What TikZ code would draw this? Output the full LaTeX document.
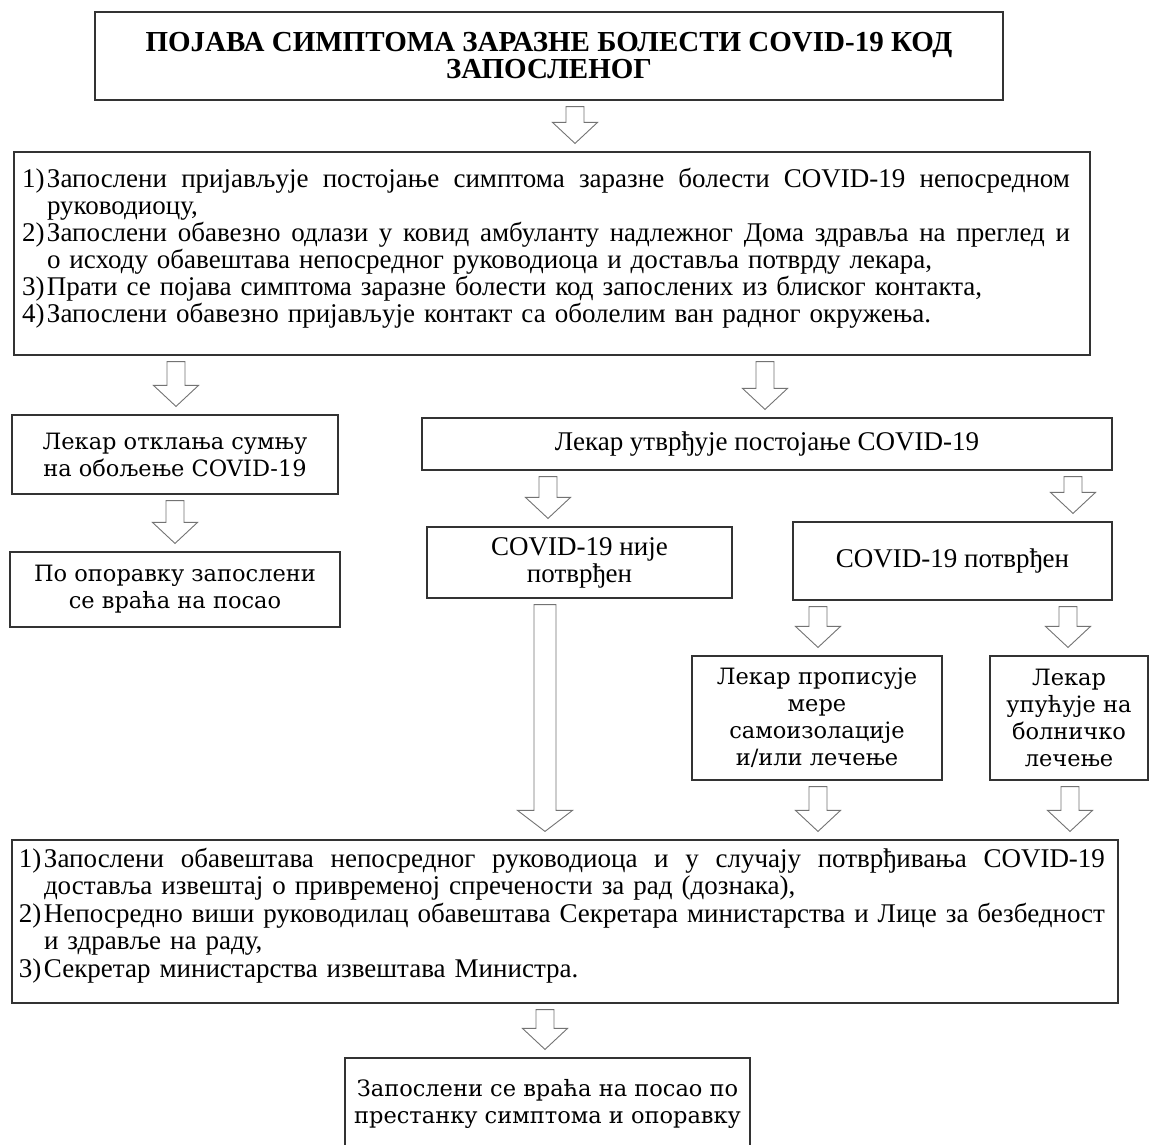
\documentclass[tikz,border=0pt]{standalone}
\usepackage{fontspec}
\setmainfont{Liberation Serif}
\newfontfamily\widefont{DejaVu Serif}
\usetikzlibrary{calc}

\tikzset{
  blockarr/.style={draw=black!55, line width=0.9pt, fill=white, line join=miter},
}

% justified first line of an item: width, text
\newcommand{\jline}[2]{{\spaceskip=0.25em plus 1em minus 0.05em\relax\makebox[#1][s]{#2}}}
\newcommand{\num}[1]{\makebox[25pt][l]{#1}}
\newcommand{\cont}{\hspace*{25pt}}

% hollow block arrow: [shaft half width], x position, from node, to node
\newcommand{\hollow}[4][9]{%
  \coordinate (h1) at ($(#3.south -| #2,0)+(0,6)$);
  \coordinate (h2) at ($(#4.north -| #2,0)+(0,-8)$);
  \draw[blockarr] let \p1=(h1), \p2=(h2) in
    (\x1-#1pt,\y1) -- (\x1+#1pt,\y1) -- (\x1+#1pt,\y2+21pt) -- (\x1+2.5*#1pt,\y2+21pt)
    -- (\x1,\y2) -- (\x1-2.5*#1pt,\y2+21pt) -- (\x1-#1pt,\y2+21pt) -- cycle;}

\begin{document}
\begin{tikzpicture}[x=1pt, y=-1pt]
    \useasboundingbox (0,0) rectangle (1157,1144);

    \begin{scope}[every node/.style={rectangle, draw=black!80, line width=1.2pt, align=center, inner ysep=4pt, font=\fontsize{27}{27}\selectfont}]
      \node[minimum width=908pt, minimum height=88pt, font=\bfseries\fontsize{29}{27}\selectfont] (T) at (549, 56)
        {ПОЈАВА СИМПТОМА ЗАРАЗНЕ БОЛЕСТИ COVID-19 КОД\\ЗАПОСЛЕНОГ};
      \node[minimum width=1076pt, minimum height=203pt, text width=1060pt, align=left] (S1) at (552, 253.5) {%
        \jline{1048pt}{\num{1)}Запослени пријављује постојање симптома заразне болести COVID-19 непосредном}\\
        \cont руководиоцу,\\
        \jline{1048pt}{\num{2)}Запослени обавезно одлази у ковид амбуланту надлежног Дома здравља на преглед и}\\
        \cont о исходу обавештава непосредног руководиоца и доставља потврду лекара,\\
        \num{3)}Прати се појава симптома заразне болести код запослених из блиског контакта,\\
        \num{4)}Запослени обавезно пријављује контакт са оболелим ван радног окружења.\\[-10pt]
        \mbox{}};
      \node[minimum width=690pt, minimum height=52pt] (LU) at (767, 444) {Лекар утврђује постојање COVID-19};
      \node[minimum width=305pt, minimum height=71pt] (NP) at (579.5, 562.5) {COVID-19 није\\потврђен};
      \node[minimum width=319pt, minimum height=78pt] (CP) at (952.5, 561) {COVID-19 потврђен};
      \node[minimum width=1106pt, minimum height=163pt, text width=1092pt, align=left,
            font=\fontsize{27}{27.5}\selectfont] (S2) at (565, 921.5) {%
        \jline{1086pt}{\num{1)}Запослени обавештава непосредног руководиоца и у случају потврђивања COVID-19}\\
        \cont доставља извештај о привременој спречености за рад (дознака),\\
        \jline{1086pt}{\num{2)}Непосредно виши руководилац обавештава Секретара министарства и Лице за безбедност}\\
        \cont и здравље на раду,\\
        \num{3)}Секретар министарства извештава Министра.\\[-10pt]
        \mbox{}};
    \end{scope}

    \begin{scope}[every node/.style={rectangle, draw=black!80, line width=1.2pt, align=center, inner ysep=4pt, font=\widefont\fontsize{22.5}{27}\selectfont}]
      \node[minimum width=326pt, minimum height=79pt] (LO) at (175, 454.5) {Лекар отклања сумњу\\на обољење COVID-19};
      \node[minimum width=330pt, minimum height=75pt] (PO) at (175, 589.5) {По опоравку запослени\\се враћа на посао};
      \node[minimum width=250pt, minimum height=124pt] (LP) at (817, 718) {Лекар прописује\\мере\\самоизолације\\и/или лечење};
      \node[minimum width=158pt, minimum height=124pt] (LB) at (1069, 718) {Лекар\\упућује на\\болничко\\лечење};
      \node[minimum width=405pt, minimum height=92pt] (RW) at (547.5, 1104) {Запослени се враћа на посао по\\престанку симптома и опоравку};
    \end{scope}

    \hollow{575}{T}{S1}
    \hollow{176}{S1}{LO}
    \hollow{765}{S1}{LU}
    \hollow{175}{LO}{PO}
    \hollow{548}{LU}{NP}
    \hollow{1073}{LU}{CP}
    \hollow[11]{545}{NP}{S2}
    \hollow{818}{CP}{LP}
    \hollow{1068}{CP}{LB}
    \hollow{818}{LP}{S2}
    \hollow{1070}{LB}{S2}
    \hollow{545}{S2}{RW}

  \end{tikzpicture}
\end{document}
